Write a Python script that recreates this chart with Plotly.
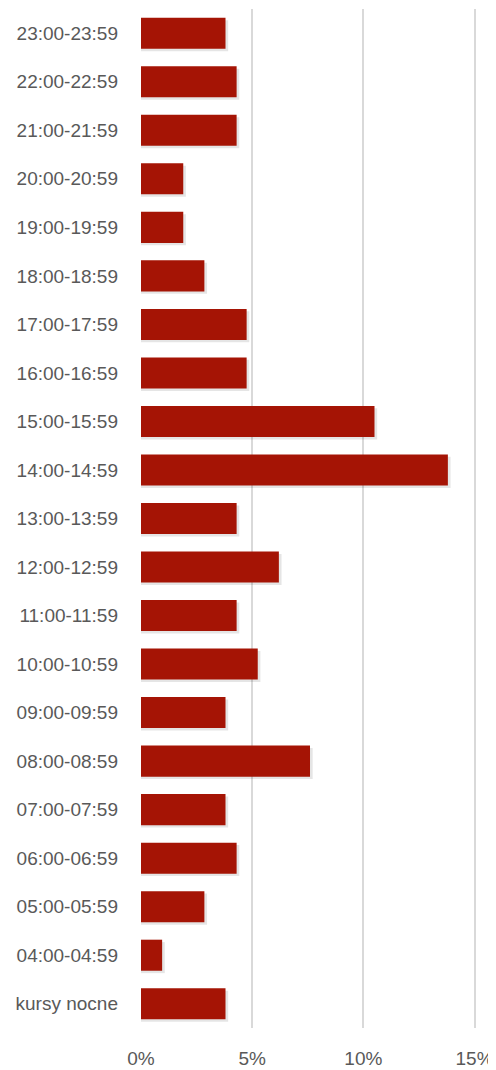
import plotly.graph_objects as go

# przedziały godzinowe (od dołu wykresu do góry)
przedzialy = ['kursy nocne', '04:00-04:59', '05:00-05:59', '06:00-06:59', '07:00-07:59',
              '08:00-08:59', '09:00-09:59', '10:00-10:59', '11:00-11:59', '12:00-12:59',
              '13:00-13:59', '14:00-14:59', '15:00-15:59', '16:00-16:59', '17:00-17:59',
              '18:00-18:59', '19:00-19:59', '20:00-20:59', '21:00-21:59', '22:00-22:59',
              '23:00-23:59']
udzial = [3.8, 0.95, 2.85, 4.3, 3.8,
          7.6, 3.8, 5.25, 4.3, 6.2,
          4.3, 13.8, 10.5, 4.75, 4.75,
          2.85, 1.9, 1.9, 4.3, 4.3,
          3.8]
ticki = [0, 5, 10, 15]
ticki_tekst = ['0%', '5%', '10%', '15%']

fig = go.Figure()

# delikatny cień pod słupkami
fig.add_trace(go.Bar(y=przedzialy, x=[v + 0.12 for v in udzial], orientation='h',
                     width=0.64, offset=-0.37,
                     marker=dict(color='rgba(0,0,0,0.10)', line_width=0),
                     hoverinfo='skip', showlegend=False))

fig.add_trace(go.Bar(y=przedzialy, x=udzial, orientation='h',
                     width=0.64, offset=-0.32,
                     marker=dict(color='#A51405', line_width=0),
                     showlegend=False))

# strona ma 8 px marginesu body, więc figura jest o 8 px mniejsza
fig.update_layout(width=488, height=1062,
                  margin=dict(l=133, r=17, t=1, b=42),
                  barmode='overlay',
                  plot_bgcolor='white', paper_bgcolor='white',
                  font=dict(family='Liberation Sans, Arial', size=19, color='#595959'))

fig.update_xaxes(range=[0, 15.2], tickvals=ticki, ticktext=ticki_tekst,
                 showgrid=True, gridcolor='#D9D9D9', gridwidth=2,
                 zeroline=False, showline=False, ticks='', ticklabelstandoff=17,
                 automargin=False)
fig.update_yaxes(type='category', categoryorder='array', categoryarray=przedzialy,
                 showgrid=False, zeroline=False, showline=False, ticks='',
                 ticklabelstandoff=22, automargin=False)

fig.write_html("out.html")
